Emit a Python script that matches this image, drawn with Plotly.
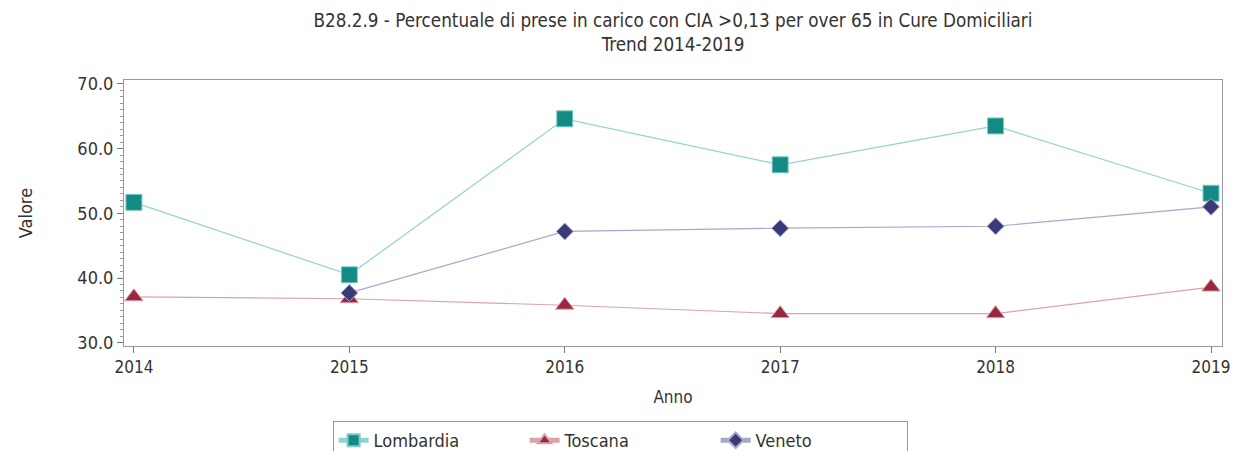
import plotly.graph_objects as go

years = [2014, 2015, 2016, 2017, 2018, 2019]
lombardia = [51.7, 40.5, 64.6, 57.5, 63.5, 53.1]
toscana = [37.1, 36.8, 35.8, 34.5, 34.5, 38.6]
veneto_years = [2015, 2016, 2017, 2018, 2019]
veneto = [37.7, 47.2, 47.7, 48.0, 51.0]
y_ticks = [30, 40, 50, 60, 70]

FONT = "DejaVu Sans Condensed"
TXT = "#333333"

fig = go.Figure()
fig.add_trace(go.Scatter(
    x=years, y=lombardia, name="Lombardia", mode="lines+markers",
    line=dict(color="#93d3cf", width=1.2),
    marker=dict(symbol="square", size=16, color="#138a84",
                line=dict(color="#7fcac4", width=1))))
fig.add_trace(go.Scatter(
    x=years, y=toscana, name="Toscana", mode="lines+markers",
    line=dict(color="#d9a3ae", width=1.2),
    marker=dict(symbol="triangle-up", size=16, color="#9b2640",
                line=dict(color="#d9a3ae", width=1))))
fig.add_trace(go.Scatter(
    x=veneto_years, y=veneto, name="Veneto", mode="lines+markers",
    line=dict(color="#aaa7cc", width=1.2),
    marker=dict(symbol="diamond", size=13, color="#3b3a78",
                line=dict(color="#aaa7cc", width=1))))

fig.update_layout(
    width=1234, height=451,
    margin=dict(l=124, r=12, t=80, b=105, autoexpand=False),
    paper_bgcolor="white", plot_bgcolor="white",
    font=dict(family=FONT, color=TXT, size=16),
    title=dict(
        text="B28.2.9 - Percentuale di prese in carico con CIA >0,13 per over 65 in Cure Domiciliari<br>Trend 2014-2019",
        x=0.5, xanchor="center", xref="paper", y=0.94, yanchor="bottom", yref="container",
        automargin=False,
        font=dict(family=FONT, size=18.7, color=TXT)),
    showlegend=True,
    legend=dict(
        orientation="h", x=0.19, xanchor="left", y=-0.282, yanchor="top",
        bordercolor="#999999", borderwidth=1,
        entrywidth=146, entrywidthmode="pixels",
        font=dict(family=FONT, size=18, color=TXT),
        itemsizing="constant"),
    xaxis=dict(
        range=[2013.954, 2019.051], tickvals=years,
        ticktext=[str(y) for y in years],
        showgrid=False, zeroline=False,
        showline=True, linecolor="#999999", linewidth=1, mirror=True,
        ticks="outside", ticklen=6, tickcolor="#777777",
        tickfont=dict(family=FONT, size=17, color=TXT),
        title=dict(text="Anno", font=dict(family=FONT, size=17, color=TXT), standoff=14)),
    yaxis=dict(
        range=[29.5, 70.6], tickvals=y_ticks,
        ticktext=[f"{v:.1f}" for v in y_ticks],
        showgrid=False, zeroline=False,
        showline=True, linecolor="#999999", linewidth=1, mirror=True,
        ticks="outside", ticklen=6, tickcolor="#777777",
        minor=dict(dtick=1, ticks="outside", ticklen=3, tickcolor="#999999", showgrid=False),
        tickfont=dict(family=FONT, size=18, color=TXT),
        title=dict(text="Valore", font=dict(family=FONT, size=18, color=TXT), standoff=40)),
)

fig.write_html("out.html", config={"displayModeBar": False},
               post_script="document.body.style.margin='0';document.body.style.overflow='hidden';")
